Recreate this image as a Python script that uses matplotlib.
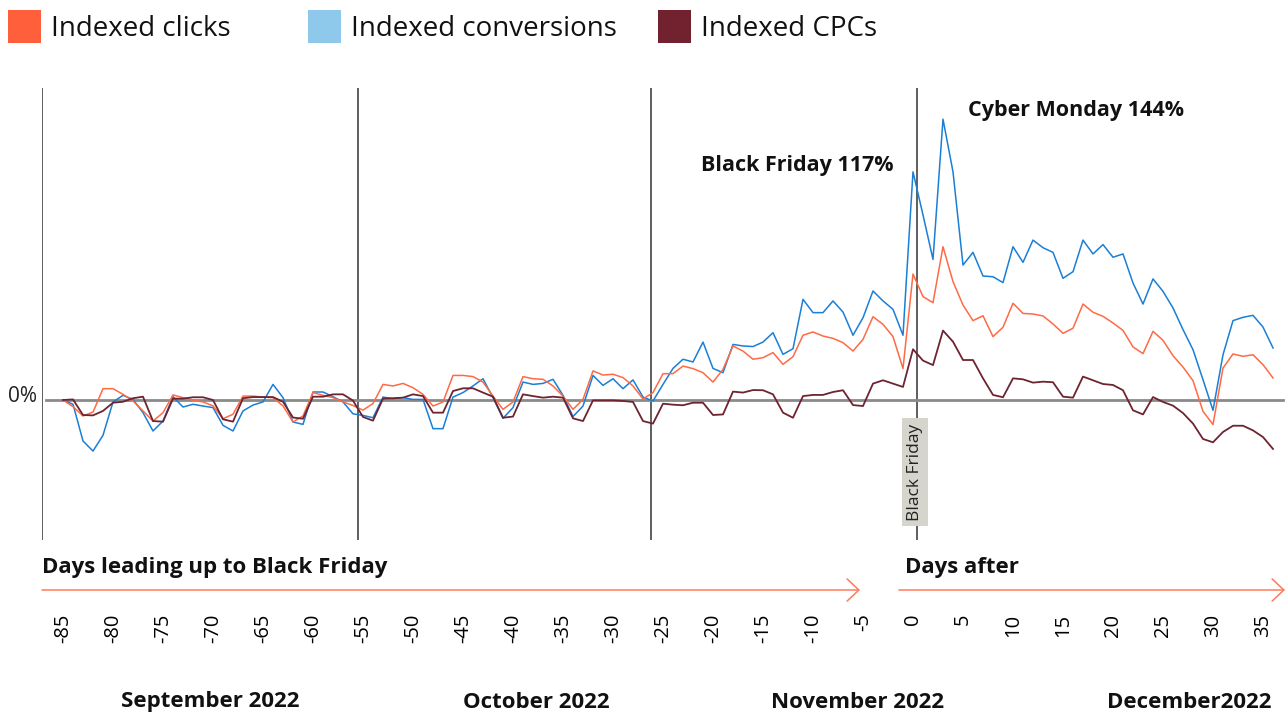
import numpy as np
import matplotlib
matplotlib.use('Agg')
import matplotlib.pyplot as plt
import matplotlib.transforms as mtransforms
from matplotlib.patches import Rectangle

# days relative to Black Friday
days = list(range(-85, 37))

clicks = [0, -3.4, -8.2, -6.2, 5.8, 5.8, 2.9, -0.5, -5.6, -10.8, -6.5, 2.6, 1.2, 0, -1, -3,
          -9.6, -7.3, 2, 2, 1.5, 1.2, -3, -11.3, -8.2, 3.8, 2.4, 1.2, -1, -2.8, -5.2,
          -1.8,
          8.0, 7.2, 8.5, 6.3, 2.9, -3.1, -1, 12.6, 12.6, 12, 9.2, 2, -4.8, -1, 12, 10.9, 10.6,
          7.2, 2, -4.8, 0.3, 14.9, 12.8, 13.2, 11.5, 7.2,
          0.5, 3.8, 13.5, 13.5, 17.4, 16.1, 14, 9.2, 15.7, 27.7, 25.1, 20.9, 21.7, 24.3, 18.3,
          22.2, 33.2, 34.9, 32.8, 31.6, 29.4, 25.1, 31.1, 42.7, 38.8, 32.5, 16.1,
          64.6, 53, 49.9, 78.6, 60.7, 48.7, 40.7, 43.2, 32.5, 37.3, 49.6, 44.4, 44.1, 43.1, 39,
          34.2, 36.8, 49.2,
          45, 42.9, 39.5, 35.7, 27.2, 23.8, 35.2, 30.6, 22.7, 16.9, 9.9, -5.8, -12.6, 16.4,
          23.6, 22.4, 23.2, 18.1, 11.3]

conversions = [0, -2.2, -21, -26.2, -18.1, -1, 2.4, 0.3, -6.5, -15.9, -10.8, 1.7, -3.6, -2.2,
               -3.1, -3.9, -13, -15.9, -5.6, -2.6, -1, 8, 1.2, -11.3, -12.5, 4.1, 4.1, 1.7, -1,
               -7.1, -7.9,
               -9.1,
               1.5, 0.7, 1.2, 0.3, 0.3, -14.7, -14.7, 1.5, 3.8, 7.2, 10.9, 1.2, -9.4, -3.9, 9.2,
               8, 8.5, 10.6, 2.4, -8.5, -3.1, 12.6, 7.5, 10.9, 5.8, 10.3,
               1.5, -0.5, 8, 16.2, 20.9, 19.5, 29.7, 16.2, 14, 28.5, 27.7, 27.4, 29.7, 34.5, 23.4,
               26.3, 51.6, 44.8, 44.8, 50.8, 45.1, 33.2, 42.2, 55.9, 50.8, 46.5, 33.2,
               117, 94.9, 72.1, 144, 117, 69.2, 75.7, 63.6, 63.2, 60.2, 78.6, 70.6, 82, 78.1,
               75.7, 62.4, 65.8, 82,
               74.9, 79.7, 73.2, 74.9, 60, 49.2, 62.1, 55.7, 47.2, 36.1, 25.8, 10.4, -5.3, 23.2,
               40.7, 42.4, 43.4, 37.4, 26.7]

cpcs = [0, 0.3, -7.7, -7.9, -5.6, -1.4, -0.9, 0.9, 1.7, -10.8, -11.1, 0.7, 0.7, 1.4, 1.4, 0,
        -9.9, -11.1, 0.9, 1.5, 1.5, 1.5, -0.9, -9, -9.6, 1.7, 1.7, 2.9, 2.9, -0.3, -8.7,
        -10.6,
        0.7, 0.9, 1.2, 2.9, 2, -6.5, -6.5, 4.6, 6, 6, 3.8, 1.7, -9.1, -8.5, 2.9, 2, 1.2, 1.7,
        1.2, -9.4, -10.8, -0.2, -0.2, -0.2, -0.5, -1,
        -10.8, -12.1, -1.9, -2.4, -2.7, -1.4, -1.4, -7.7, -7.4, 4.3, 3.8, 5.1, 5, 2.9, -6.5,
        -9.1, 2, 2.6, 2.6, 4.1, 5, -2.6, -3.1, 8.4, 10.1, 8.4, 6.7,
        26, 20.2, 17.9, 35.6, 29.9, 20.5, 20.5, 11.1, 2.6, 1.4, 11.1, 10.6, 8.9, 9.4, 9.1,
        1.7, 1.2, 12,
        10.1, 8.2, 7.7, 5, -5.3, -7.4, 1.5, -1, -2.9, -6.7, -12.1, -20, -21.7, -16.4, -13.2,
        -13.2, -15.6, -19, -25.1]

tick_days = list(range(-85, 36, 5))
divider_days = [-87.1, -55.5, -26.2, 0.4]
months = ['September 2022', 'October 2022', 'November 2022', 'December2022']
month_pos = [-70.3, -37.7, -5.5, 27.6]

series_names = ['Indexed clicks', 'Indexed conversions', 'Indexed CPCs']
legend_colors = ['#ff5f3a', '#8ec8ea', '#72222f']
line_colors = ['#ff6a45', '#1a7fd6', '#6e2430']

plt.rcParams['font.family'] = ['Open Sans', 'DejaVu Sans']

W, H = 1288, 716
fig = plt.figure(figsize=(W / 100, H / 100), dpi=100)
ax = fig.add_axes([42 / W, (H - 540) / H, (W - 42) / W, (540 - 88) / H])
ax.set_xlim(-87.1, 37.5)
ax.set_ylim(-71.8, 160)
for s in ax.spines.values():
    s.set_visible(False)
ax.set_yticks([])

# month dividers and baseline
for d in divider_days:
    ax.axvline(d, color='#333333', lw=1.1, zorder=1)
ax.plot([-86.7, 37], [0, 0], color='#8a8a8a', lw=2, zorder=2, clip_on=False)

ax.plot(days, clicks, color=line_colors[0], lw=1.1, zorder=4)
ax.plot(days, conversions, color=line_colors[1], lw=1.1, zorder=3)
ax.plot(days, cpcs, color=line_colors[2], lw=1.3, zorder=5)

# Black Friday marker box
ax.text(0.2, -37, 'Black Friday', rotation=90, ha='center', va='center', fontsize=12.5,
        color='#222222', zorder=6,
        bbox=dict(boxstyle='square,pad=0.3', facecolor='#d5d5cd', edgecolor='none'))

ax.text(-2.0, 120.5, 'Black Friday 117%', ha='right', va='center', fontsize=15.5,
        fontweight='bold', color='#111111')
ax.text(5.5, 148.5, 'Cyber Monday 144%', ha='left', va='center', fontsize=15.5,
        fontweight='bold', color='#111111')

# x ticks
ax.set_xticks(tick_days)
ax.set_xticklabels([str(t) for t in tick_days], rotation=90, fontsize=14.5)
ax.tick_params(axis='x', length=0, pad=53)

# arrows and phase labels
arrow_y = H - 590
for x_start, x_end in [(-87.1, -5.3), (-1.4, 37.2)]:
    ax.annotate('', xy=(x_end, arrow_y), xytext=(x_start, arrow_y),
                xycoords=('data', 'figure pixels'), textcoords=('data', 'figure pixels'),
                arrowprops=dict(arrowstyle='->,head_length=0.85,head_width=0.8',
                                color='#ff7a5c', lw=1.1, mutation_scale=10,
                                shrinkA=0, shrinkB=0))
fig.text(42 / W, 1 - 567 / H, 'Days leading up to Black Friday', ha='left', va='center',
         fontsize=16, fontweight='bold', color='#111111')
fig.text(905 / W, 1 - 567 / H, 'Days after', ha='left', va='center',
         fontsize=16, fontweight='bold', color='#111111')

month_trans = mtransforms.blended_transform_factory(ax.transData, fig.transFigure)
for name, pos in zip(months, month_pos):
    ax.text(pos, 1 - 702 / H, name, transform=month_trans, ha='center', va='center',
            fontsize=16, fontweight='bold', color='#111111')

fig.text(8 / W, 1 - 397 / H, '0%', ha='left', va='center', fontsize=15, color='#222222')

# legend header
legend_x = [8, 308, 658]
for x0, name, c in zip(legend_x, series_names, legend_colors):
    fig.patches.append(Rectangle((x0 / W, 1 - 43 / H), 33 / W, 33 / H, transform=fig.transFigure,
                                 facecolor=c, edgecolor='none'))
    fig.text((x0 + 43) / W, 1 - 29 / H, name, ha='left', va='center', fontsize=20,
             color='#111111')

fig.savefig('out.png', dpi=100)
